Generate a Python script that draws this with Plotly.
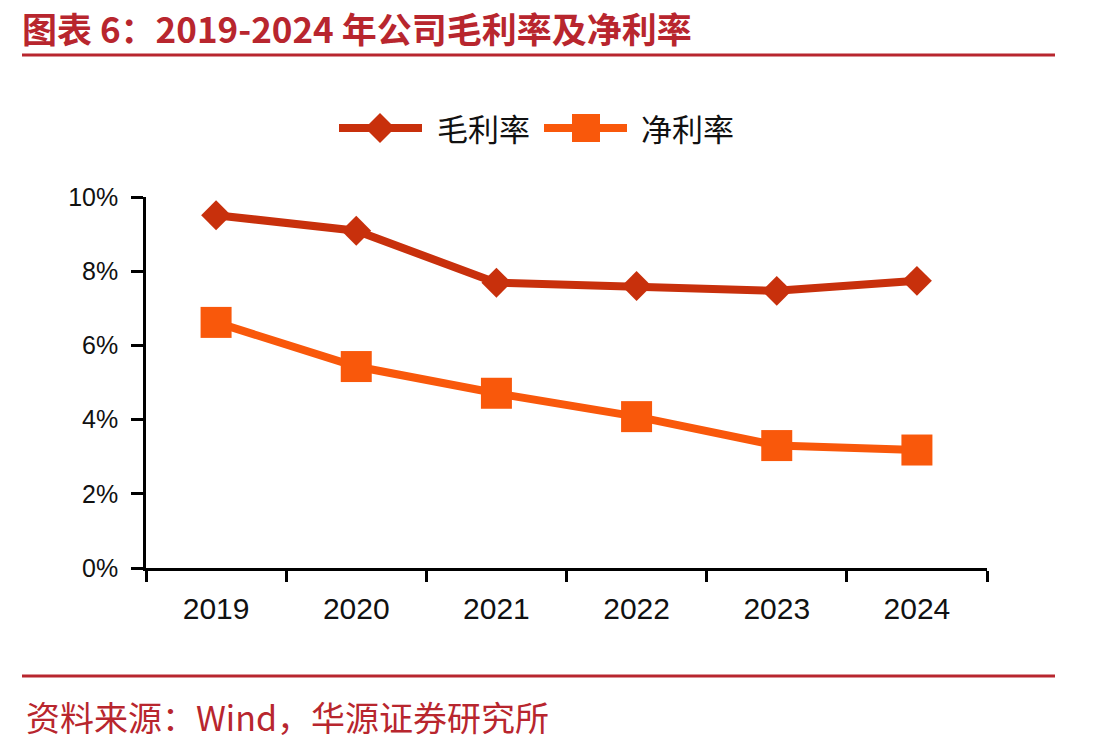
import plotly.graph_objects as go

years = ["2019", "2020", "2021", "2022", "2023", "2024"]
gross_margin = [9.51, 9.09, 7.69, 7.60, 7.47, 7.74]
net_margin = [6.62, 5.43, 4.71, 4.08, 3.30, 3.18]
y_ticks = [0, 2, 4, 6, 8, 10]
y_tick_labels = ["0%", "2%", "4%", "6%", "8%", "10%"]

title_text = "图表 6：2019-2024 年公司毛利率及净利率"
source_text = "资料来源：Wind，华源证券研究所"
series_names = ["毛利率", "净利率"]

C_GROSS = "#C8300C"
C_NET = "#F9580B"
C_RED = "#B8262E"

W, H = 1113, 748
L, R, T, B = 146, 987, 197, 568
PW, PH = R - L, B - T


def px(x):
    return (x - L) / PW


def py(y):
    return (B - y) / PH


fig = go.Figure()
fig.add_trace(go.Scatter(
    x=years, y=gross_margin, mode="lines+markers", name=series_names[0],
    line=dict(color=C_GROSS, width=8),
    marker=dict(symbol="diamond", size=23, color=C_GROSS),
    cliponaxis=False,
))
fig.add_trace(go.Scatter(
    x=years, y=net_margin, mode="lines+markers", name=series_names[1],
    line=dict(color=C_NET, width=8),
    marker=dict(symbol="square", size=31, color=C_NET),
    cliponaxis=False,
))

shapes = []
# title / footer rules
shapes.append(dict(type="line", xref="paper", yref="paper", x0=px(22), x1=px(1055),
                   y0=py(55), y1=py(55), line=dict(color=C_RED, width=3)))
shapes.append(dict(type="line", xref="paper", yref="paper", x0=px(22), x1=px(1055),
                   y0=py(676), y1=py(676), line=dict(color=C_RED, width=3)))

# custom legend
ly = 128
shapes.append(dict(type="line", xref="paper", yref="paper", x0=px(339), x1=px(422),
                   y0=py(ly), y1=py(ly), line=dict(color=C_GROSS, width=8)))
cx, d = 380, 15
shapes.append(dict(type="path", xref="paper", yref="paper",
                   path=f"M{px(cx - d)},{py(ly)} L{px(cx)},{py(ly - d)} L{px(cx + d)},{py(ly)} L{px(cx)},{py(ly + d)} Z",
                   fillcolor=C_GROSS, line=dict(width=0)))
shapes.append(dict(type="line", xref="paper", yref="paper", x0=px(544), x1=px(627),
                   y0=py(ly), y1=py(ly), line=dict(color=C_NET, width=8)))
sx, s = 586, 14
shapes.append(dict(type="rect", xref="paper", yref="paper",
                   x0=px(sx - s), x1=px(sx + s), y0=py(ly + s), y1=py(ly - s),
                   fillcolor=C_NET, line=dict(width=0)))

annotations = [
    dict(text=f"<b>{title_text}</b>", xref="paper", yref="paper", x=px(20), y=py(27),
         xanchor="left", yanchor="middle", showarrow=False,
         font=dict(family="Noto Sans CJK SC", size=35, color=C_RED)),
    dict(text=source_text, xref="paper", yref="paper", x=px(24), y=py(716),
         xanchor="left", yanchor="middle", showarrow=False,
         font=dict(family="Noto Sans CJK SC", size=34, color=C_RED)),
    dict(text=series_names[0], xref="paper", yref="paper", x=px(435), y=py(ly),
         xanchor="left", yanchor="middle", showarrow=False,
         font=dict(family="Noto Sans CJK SC", size=31, color="#111111")),
    dict(text=series_names[1], xref="paper", yref="paper", x=px(639), y=py(ly),
         xanchor="left", yanchor="middle", showarrow=False,
         font=dict(family="Noto Sans CJK SC", size=31, color="#111111")),
]

fig.update_layout(
    width=W, height=H,
    margin=dict(l=L, r=W - R, t=T, b=H - B, pad=0),
    paper_bgcolor="white", plot_bgcolor="white",
    showlegend=False,
    shapes=shapes,
    annotations=annotations,
    font=dict(family="Liberation Sans, Arial", color="#111111"),
)
fig.update_xaxes(
    type="category", range=[-0.5, 5.5],
    showline=True, linecolor="black", linewidth=2.5,
    ticks="outside", ticklen=11, tickwidth=2.5, tickcolor="black",
    tickson="boundaries", showgrid=False, zeroline=False,
    tickfont=dict(size=30), ticklabelstandoff=12,
)
fig.update_yaxes(
    range=[0, 10], tickvals=y_ticks, ticktext=y_tick_labels,
    showline=True, linecolor="black", linewidth=2.5,
    ticks="outside", ticklen=12, tickwidth=2.5, tickcolor="black",
    showgrid=False, zeroline=False,
    tickfont=dict(size=25), ticklabelstandoff=8,
)

fig.write_html("out.html")
